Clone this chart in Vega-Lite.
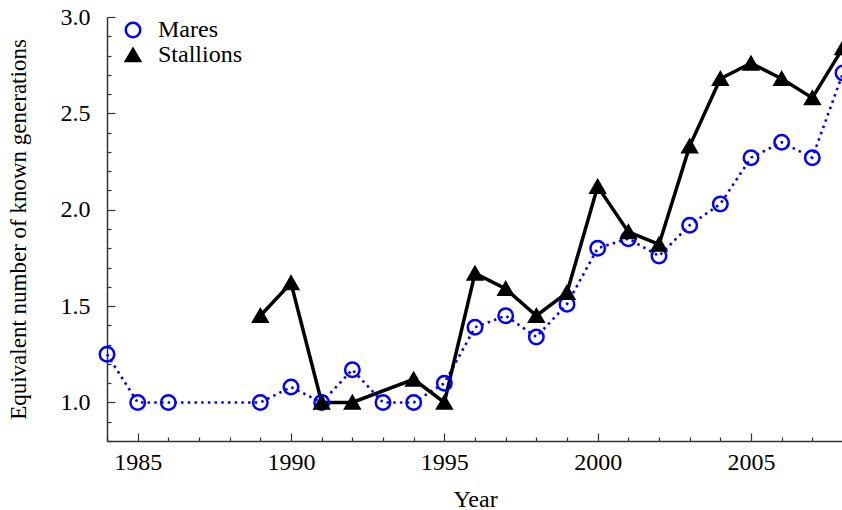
{
  "$schema": "https://vega.github.io/schema/vega-lite/v6.json",
  "width": 736,
  "height": 424,
  "autosize": {"type": "none"},
  "padding": {"left": 107, "top": 17, "right": 0, "bottom": 69},
  "config": {
    "view": {"stroke": null},
    "font": "Liberation Serif",
    "legend": {
      "labelFont": "Liberation Serif",
      "labelFontSize": 24,
      "labelColor": "#000000"
    }
  },
  "data": {
    "values": [
      {"year": 1984, "value": 1.25, "series": "Mares"},
      {"year": 1985, "value": 1.0, "series": "Mares"},
      {"year": 1986, "value": 1.0, "series": "Mares"},
      {"year": 1989, "value": 1.0, "series": "Mares"},
      {"year": 1990, "value": 1.08, "series": "Mares"},
      {"year": 1991, "value": 1.0, "series": "Mares"},
      {"year": 1992, "value": 1.17, "series": "Mares"},
      {"year": 1993, "value": 1.0, "series": "Mares"},
      {"year": 1994, "value": 1.0, "series": "Mares"},
      {"year": 1995, "value": 1.1, "series": "Mares"},
      {"year": 1996, "value": 1.39, "series": "Mares"},
      {"year": 1997, "value": 1.45, "series": "Mares"},
      {"year": 1998, "value": 1.34, "series": "Mares"},
      {"year": 1999, "value": 1.51, "series": "Mares"},
      {"year": 2000, "value": 1.8, "series": "Mares"},
      {"year": 2001, "value": 1.85, "series": "Mares"},
      {"year": 2002, "value": 1.76, "series": "Mares"},
      {"year": 2003, "value": 1.92, "series": "Mares"},
      {"year": 2004, "value": 2.03, "series": "Mares"},
      {"year": 2005, "value": 2.27, "series": "Mares"},
      {"year": 2006, "value": 2.35, "series": "Mares"},
      {"year": 2007, "value": 2.27, "series": "Mares"},
      {"year": 2008, "value": 2.71, "series": "Mares"},
      {"year": 1989, "value": 1.45, "series": "Stallions"},
      {"year": 1990, "value": 1.62, "series": "Stallions"},
      {"year": 1991, "value": 1.0, "series": "Stallions"},
      {"year": 1992, "value": 1.0, "series": "Stallions"},
      {"year": 1994, "value": 1.12, "series": "Stallions"},
      {"year": 1995, "value": 1.0, "series": "Stallions"},
      {"year": 1996, "value": 1.67, "series": "Stallions"},
      {"year": 1997, "value": 1.59, "series": "Stallions"},
      {"year": 1998, "value": 1.45, "series": "Stallions"},
      {"year": 1999, "value": 1.57, "series": "Stallions"},
      {"year": 2000, "value": 2.12, "series": "Stallions"},
      {"year": 2001, "value": 1.885, "series": "Stallions"},
      {"year": 2002, "value": 1.82, "series": "Stallions"},
      {"year": 2003, "value": 2.33, "series": "Stallions"},
      {"year": 2004, "value": 2.68, "series": "Stallions"},
      {"year": 2005, "value": 2.76, "series": "Stallions"},
      {"year": 2006, "value": 2.68, "series": "Stallions"},
      {"year": 2007, "value": 2.58, "series": "Stallions"},
      {"year": 2008, "value": 2.84, "series": "Stallions"}
    ]
  },
  "encoding": {
    "x": {
      "field": "year",
      "type": "quantitative",
      "scale": {"domain": [1984, 2008], "nice": false, "zero": false},
      "axis": {
        "title": "Year",
        "titleFont": "Liberation Serif",
        "titleFontSize": 24,
        "titleFontWeight": "normal",
        "titleColor": "#000000",
        "titlePadding": 9,
        "labelFont": "Liberation Serif",
        "labelFontSize": 24,
        "labelColor": "#000000",
        "domainColor": "#333333",
        "domainWidth": 1.5,
        "tickColor": "#333333",
        "tickWidth": 1.2,
        "grid": false,
        "values": [1984,1985,1986,1987,1988,1989,1990,1991,1992,1993,1994,1995,1996,1997,1998,1999,2000,2001,2002,2003,2004,2005,2006,2007,2008],
        "labelExpr": "datum.value % 5 === 0 ? format(datum.value, 'd') : ''",
        "tickSize": {"condition": {"test": "datum.value % 5 === 0", "value": -8}, "value": -4},
        "labelPadding": 17,
        "labelFlush": false,
        "labelOverlap": false
      }
    },
    "y": {
      "field": "value",
      "type": "quantitative",
      "scale": {"domain": [0.8, 3.0], "nice": false, "zero": false},
      "axis": {
        "title": "Equivalent number of known generations",
        "titleFont": "Liberation Serif",
        "titleFontSize": 23,
        "titleFontWeight": "normal",
        "titleColor": "#000000",
        "titlePadding": 30,
        "labelFont": "Liberation Serif",
        "labelFontSize": 24,
        "labelColor": "#000000",
        "domainColor": "#333333",
        "domainWidth": 1.5,
        "tickColor": "#333333",
        "tickWidth": 1.2,
        "grid": false,
        "values": [0.8,0.9,1.0,1.1,1.2,1.3,1.4,1.5,1.6,1.7,1.8,1.9,2.0,2.1,2.2,2.3,2.4,2.5,2.6,2.7,2.8,2.9,3.0],
        "labelExpr": "abs(datum.value*2 - round(datum.value*2)) < 0.001 && datum.value > 0.9 ? format(datum.value, '.1f') : ''",
        "tickSize": {"condition": {"test": "abs(datum.value*2 - round(datum.value*2)) < 0.001", "value": -8}, "value": -4},
        "labelPadding": 25,
        "labelFlush": false,
        "labelOverlap": false
      }
    },
    "color": {
      "field": "series",
      "type": "nominal",
      "scale": {"domain": ["Mares", "Stallions"], "range": ["#0000ff", "#000000"]},
      "legend": {
        "title": null,
        "orient": "none",
        "legendX": 14,
        "legendY": 1,
        "symbolSize": 200,
        "symbolStrokeWidth": 2.5,
        "labelOffset": 13,
        "rowPadding": 0
      }
    }
  },
  "layer": [
    {
      "transform": [{"filter": "datum.series === 'Mares'"}],
      "mark": {"type": "line", "strokeCap": "butt", "strokeDash": [2.5, 4.2], "strokeWidth": 2.6}
    },
    {
      "transform": [{"filter": "datum.series === 'Stallions'"}],
      "mark": {"type": "line", "strokeWidth": 3.5}
    },
    {
      "mark": {"type": "point", "strokeWidth": 2.5, "opacity": 1},
      "encoding": {
        "shape": {
          "field": "series",
          "type": "nominal",
          "scale": {"domain": ["Mares", "Stallions"], "range": ["circle", "triangle-up"]}
        },
        "fill": {
          "field": "series",
          "type": "nominal",
          "scale": {"domain": ["Mares", "Stallions"], "range": ["transparent", "#000000"]}
        },
        "size": {
          "field": "series",
          "type": "nominal",
          "scale": {"domain": ["Mares", "Stallions"], "range": [210, 200]},
          "legend": null
        }
      }
    }
  ]
}
